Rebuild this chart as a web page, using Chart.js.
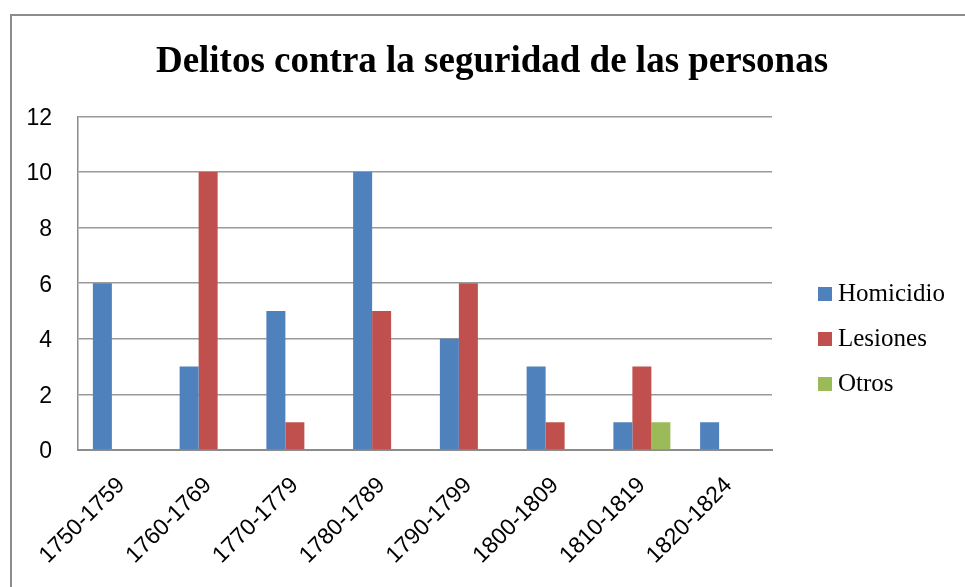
<!DOCTYPE html>
<html>
<head>
<meta charset="utf-8">
<script src="https://cdn.jsdelivr.net/npm/chart.js@4/dist/chart.umd.min.js"></script>
<style>
html,body{margin:0;padding:0;background:#fff;}
#wrap{position:absolute;left:0;top:0;width:965px;height:587px;}
</style>
</head>
<body>
<div id="wrap"><canvas id="c" width="965" height="587"></canvas></div>
<script>
const categories = ["1750-1759","1760-1769","1770-1779","1780-1789","1790-1799","1800-1809","1810-1819","1820-1824"];
const homicidio = [6,3,5,10,4,3,1,1];
const lesiones  = [0,10,1,5,6,1,3,0];
const otros     = [0,0,0,0,0,0,1,0];
const seriesNames = ["Homicidio","Lesiones","Otros"];
const seriesColors = ["#4F81BD","#C0504D","#9BBB59"];
const yTicks = [0,2,4,6,8,10,12];

const framePlugin = {
  id: 'frame',
  beforeDraw(chart) {
    const ctx = chart.ctx;
    ctx.save();
    ctx.fillStyle = '#fff';
    ctx.fillRect(0,0,chart.width,chart.height);
    ctx.strokeStyle = '#8c8c8c';
    ctx.lineWidth = 2;
    ctx.beginPath();
    ctx.moveTo(11, 600);
    ctx.lineTo(11, 15);
    ctx.lineTo(980, 15);
    ctx.stroke();
    ctx.restore();
  },
  afterDraw(chart) {
    const ctx = chart.ctx;
    ctx.save();
    ctx.font = '25px "Liberation Serif", "Times New Roman", serif';
    ctx.textBaseline = 'middle';
    const x0 = 818, y0 = 294, step = 45;
    chart.data.datasets.forEach((ds, i) => {
      const y = y0 + i*step;
      ctx.fillStyle = ds.backgroundColor;
      ctx.fillRect(x0, y-7, 14, 14);
      ctx.fillStyle = '#000';
      ctx.fillText(ds.label, x0 + 20, y);
    });
    ctx.restore();
  }
};

new Chart(document.getElementById('c'), {
  type: 'bar',
  data: {
    labels: categories,
    datasets: [
      {label: seriesNames[0], data: homicidio, backgroundColor: seriesColors[0]},
      {label: seriesNames[1], data: lesiones, backgroundColor: seriesColors[1]},
      {label: seriesNames[2], data: otros, backgroundColor: seriesColors[2]}
    ]
  },
  options: {
    responsive: false,
    animation: false,
    devicePixelRatio: 1,
    layout: {padding: {left: 19, right: 0, top: 15, bottom: 0}},
    datasets: {bar: {categoryPercentage: 0.657, barPercentage: 1.0, borderWidth: 0}},
    plugins: {
      legend: {display: false},
      tooltip: {enabled: false},
      title: {
        display: true,
        text: 'Delitos contra la seguridad de las personas',
        color: '#000',
        font: {family: '"Liberation Serif", "Times New Roman", serif', size: 37, weight: 'bold'},
        padding: {top: 25, bottom: 32}
      }
    },
    scales: {
      x: {
        grid: {display: false, drawTicks: false},
        border: {display: true, color: '#8c8c8c', width: 2},
        ticks: {
          color: '#000',
          font: {family: '"Liberation Sans", Arial, sans-serif', size: 23},
          minRotation: 45, maxRotation: 45, padding: 22, autoSkip: false
        },
        afterFit(scale) { scale.height = 137; }
      },
      y: {
        min: 0, max: 12,
        afterBuildTicks(scale) { scale.ticks = yTicks.map(v => ({value: v})); },
        grid: {color: '#9a9a9a', lineWidth: 1.5, drawTicks: false},
        border: {display: true, color: '#8c8c8c', width: 1.5},
        ticks: {
          color: '#000',
          font: {family: '"Liberation Sans", Arial, sans-serif', size: 23},
          padding: 26,
          labelOffset: 2
        },
        afterFit(scale) { scale.width = 59; }
      },
      yRight: {
        position: 'right',
        display: true,
        grid: {display: false, drawTicks: false},
        border: {display: false},
        ticks: {display: false},
        afterFit(scale) { scale.width = 193; }
      }
    }
  },
  plugins: [framePlugin]
});
</script>
</body>
</html>
